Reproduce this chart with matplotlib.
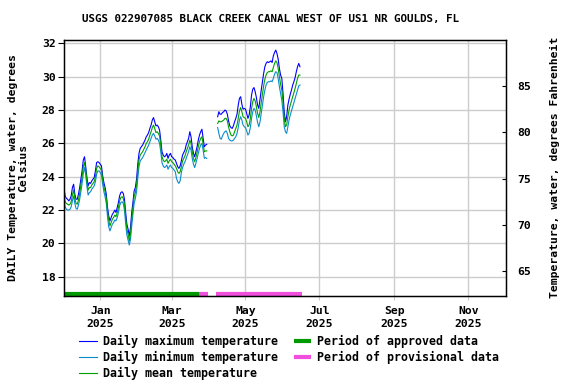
import matplotlib
matplotlib.use('Agg')
import matplotlib.pyplot as plt
import numpy as np
import pandas as pd

# Daily values, first segment starts 2024-12-02, second starts 2025-04-08
seg1_start = '2024-12-02'
seg1_max = [23.3, 22.85, 22.7, 22.65, 22.55, 22.65, 22.85, 23.35, 23.55, 22.95,
            22.65, 22.65, 22.95, 23.35, 23.85, 24.35, 25.0, 25.2, 24.6, 23.95,
            23.45, 23.65, 23.6, 23.75, 23.85, 23.95, 24.35, 24.85, 24.9, 24.85,
            24.75, 24.65, 24.05, 23.65, 23.35, 22.95, 22.15, 21.65, 21.35, 21.55,
            21.75, 21.85, 22.0, 21.85, 22.15, 22.45, 22.85, 23.05, 23.1, 23.0,
            22.65, 21.85, 21.15, 20.85, 20.45, 20.95, 21.85, 22.45, 23.15, 23.35,
            23.85, 24.75, 25.4, 25.7, 25.8, 25.9, 26.05, 26.2, 26.4, 26.5,
            26.65, 26.9, 27.1, 27.4, 27.55, 27.3, 27.05, 27.1, 27.0, 26.8,
            26.2, 25.5, 25.3, 25.2, 25.25, 25.4, 25.1, 25.3, 25.4, 25.2,
            25.15, 25.05, 25.0, 24.8, 24.6, 24.5, 24.65, 24.95, 25.3, 25.45,
            25.6, 25.9, 26.1, 26.3, 26.7, 26.4, 25.8, 25.4, 25.2, 25.5,
            25.8, 26.2, 26.5, 26.7, 26.85, 26.3, 25.8, 25.9, 25.95]
seg1_mean = [22.9, 22.5, 22.4, 22.35, 22.3, 22.35, 22.5, 22.9, 23.2, 22.7,
             22.4, 22.35, 22.6, 23.0, 23.5, 24.0, 24.6, 24.85, 24.4, 23.7,
             23.2, 23.35, 23.35, 23.5, 23.6, 23.7, 24.0, 24.5, 24.65, 24.6,
             24.5, 24.4, 23.85, 23.4, 23.1, 22.7, 21.9, 21.4, 21.05, 21.25,
             21.45, 21.55, 21.7, 21.6, 21.85, 22.15, 22.55, 22.75, 22.8, 22.7,
             22.35, 21.55, 20.85, 20.55, 20.15, 20.6, 21.45, 22.1, 22.8, 23.05,
             23.5, 24.35, 25.0, 25.3, 25.4, 25.5, 25.65, 25.8, 26.0, 26.1,
             26.25, 26.5, 26.7, 26.95, 27.1, 26.9, 26.65, 26.7, 26.6, 26.45,
             25.9, 25.2, 25.0, 24.9, 24.95, 25.05, 24.8, 24.95, 25.05, 24.9,
             24.85, 24.75, 24.65, 24.5, 24.3, 24.2, 24.3, 24.6, 24.95, 25.1,
             25.25, 25.5, 25.7, 25.9, 26.2, 26.0, 25.5, 25.1, 24.9, 25.15,
             25.45, 25.8, 26.1, 26.3, 26.4, 25.95, 25.5, 25.55, 25.55]
seg1_min = [22.6, 22.2, 22.05, 22.0, 22.0, 22.05, 22.2, 22.55, 22.85, 22.4,
            22.1, 22.05, 22.3, 22.65, 23.1, 23.6, 24.2, 24.55, 24.1, 23.4,
            22.9, 23.05, 23.1, 23.25, 23.35, 23.45, 23.7, 24.15, 24.35, 24.35,
            24.25, 24.1, 23.55, 23.1, 22.8, 22.4, 21.6, 21.0, 20.75, 20.95,
            21.15, 21.25, 21.4, 21.35, 21.55, 21.85, 22.25, 22.45, 22.5, 22.4,
            22.0, 21.2, 20.5, 20.2, 19.9, 20.25, 21.05, 21.75, 22.4, 22.7,
            23.1, 23.9, 24.6, 24.95, 25.05, 25.15, 25.3, 25.45, 25.6, 25.75,
            25.9, 26.1, 26.3, 26.5, 26.6, 26.45, 26.25, 26.3, 26.2, 26.0,
            25.5, 24.85, 24.65, 24.55, 24.6, 24.7, 24.45, 24.6, 24.7, 24.55,
            24.5, 24.4, 24.3, 23.9, 23.7, 23.6, 23.75, 24.25, 24.55, 24.75,
            24.9, 25.1, 25.3, 25.5, 25.8, 25.6, 25.1, 24.75, 24.55, 24.8,
            25.1, 25.4, 25.7, 25.9, 26.0, 25.6, 25.1, 25.15, 25.1]

seg2_start = '2025-04-08'
seg2_max = [27.6, 27.9, 27.75, 27.75, 27.85, 27.9, 28.0, 27.95, 27.75, 27.35,
            27.05, 26.95, 26.9, 27.05, 27.3, 27.5, 27.75, 28.3, 28.7, 28.8,
            28.35, 28.05, 28.1, 28.05, 27.8, 27.5, 27.7, 28.2, 28.9, 29.25,
            29.35, 29.1, 28.75, 28.3, 28.1, 28.65, 29.2, 29.7, 30.2, 30.6,
            30.8, 30.9, 30.85, 30.9, 30.95, 30.85, 31.25, 31.45, 31.6, 31.4,
            31.05, 30.5, 30.1, 29.9, 29.0, 27.9, 27.3, 27.6, 28.3, 28.65,
            28.95, 29.2, 29.5, 29.7, 29.95, 30.3, 30.6, 30.8, 30.6]
seg2_mean = [27.2, 27.35, 27.3, 27.3, 27.35, 27.4, 27.5, 27.5, 27.35, 27.0,
             26.7, 26.5, 26.45, 26.5, 26.7, 26.9, 27.1, 27.5, 27.95, 28.15,
             27.9, 27.6, 27.55, 27.5, 27.3, 27.0, 27.1, 27.5, 28.1, 28.5,
             28.7, 28.55, 28.2, 27.8, 27.55, 27.9, 28.45, 28.95, 29.45, 29.85,
             30.1, 30.25, 30.3, 30.3, 30.35, 30.3, 30.55, 30.8, 30.95, 30.85,
             30.5, 30.0, 29.55, 29.2, 28.5, 27.5, 27.0, 27.1, 27.6, 28.0,
             28.3, 28.55, 28.8, 29.05, 29.3, 29.6, 29.9, 30.1, 30.1]
seg2_min = [26.95, 26.6, 26.3, 26.25, 26.45, 26.6, 26.7, 26.75, 26.6, 26.3,
            26.2, 26.15, 26.15, 26.2, 26.3, 26.4, 26.6, 26.95, 27.4, 27.6,
            27.4, 27.1, 27.0, 26.95, 26.75, 26.5, 26.6, 26.95, 27.5, 27.9,
            28.1, 28.0, 27.65, 27.25, 27.0, 27.3, 27.8, 28.3, 28.8, 29.2,
            29.5, 29.65, 29.7, 29.7, 29.75, 29.7, 29.9, 30.15, 30.3, 30.25,
            29.9, 29.4, 29.0, 28.6, 27.9, 27.0, 26.7, 26.6, 27.0, 27.4,
            27.7, 27.95, 28.2, 28.45, 28.7, 28.95, 29.2, 29.45, 29.5]

approved_periods = [('2024-12-01', '2025-03-24')]
provisional_periods = [('2025-03-24', '2025-03-31'), ('2025-04-07', '2025-06-17')]

tick_dates = ['2025-01-01', '2025-03-01', '2025-05-01', '2025-07-01', '2025-09-01', '2025-11-01']
tick_labels = ['Jan\n2025', 'Mar\n2025', 'May\n2025', 'Jul\n2025', 'Sep\n2025', 'Nov\n2025']

title = 'USGS 022907085 BLACK CREEK CANAL WEST OF US1 NR GOULDS, FL'

MAX_C = '#0000ff'
MIN_C = '#0a8cd0'
MEAN_C = '#00a000'
APPR_C = '#009900'
PROV_C = '#f24fdf'

plt.rcParams['font.family'] = 'DejaVu Sans Mono'
plt.rcParams['font.weight'] = 'bold'
FS = 8.2

fig = plt.figure(figsize=(5.76, 3.84), dpi=100)
ax = fig.add_axes([0.111, 0.229, 0.767, 0.668])

for start, mx, mn, me in [(seg1_start, seg1_max, seg1_min, seg1_mean),
                          (seg2_start, seg2_max, seg2_min, seg2_mean)]:
    dates = pd.date_range(start, periods=len(mx), freq='D')
    ax.plot(dates, mx, color=MAX_C, lw=0.8, label='Daily maximum temperature')
    ax.plot(dates, mn, color=MIN_C, lw=0.8, label='Daily minimum temperature')
    ax.plot(dates, me, color=MEAN_C, lw=0.8, label='Daily mean temperature')

bar_y = 16.98
for s, e in approved_periods:
    ax.plot([pd.Timestamp(s), pd.Timestamp(e)], [bar_y, bar_y], color=APPR_C, lw=3,
            solid_capstyle='butt', label='Period of approved data')
for s, e in provisional_periods:
    ax.plot([pd.Timestamp(s), pd.Timestamp(e)], [bar_y, bar_y], color=PROV_C, lw=3,
            solid_capstyle='butt', label='Period of provisional data')

ax.set_xlim(pd.Timestamp('2024-12-02'), pd.Timestamp('2025-12-02'))
ax.set_ylim(16.84, 32.23)
ax.set_yticks(np.arange(18, 33, 2))
ax.set_xticks([pd.Timestamp(d) for d in tick_dates])
ax.set_xticklabels(tick_labels, fontsize=FS, fontweight='bold', linespacing=1.3)
ax.tick_params(axis='y', labelsize=FS, direction='out', length=4, pad=2)
ax.tick_params(axis='x', length=3, color='#cccccc', pad=4.5)
ax.grid(True, color='#cccccc', lw=1)
ax.set_axisbelow(True)
for sp in ax.spines.values():
    sp.set_linewidth(1)
ax.set_ylabel('DAILY Temperature, water, degrees\nCelsius', fontsize=FS,
              fontweight='bold', labelpad=10, linespacing=1.0)
fig.text(271 / 576, 1 - 19 / 384, title, fontsize=7.8, fontweight='bold',
         ha='center', va='center')

ax2 = ax.twinx()
lo, hi = ax.get_ylim()
ax2.set_ylim(lo * 1.8 + 32, hi * 1.8 + 32)
ax2.set_yticks([65, 70, 75, 80, 85])
ax2.tick_params(axis='y', labelsize=FS, direction='in', length=3, pad=8)
ax2.set_ylabel('Temperature, water, degrees Fahrenheit', fontsize=FS,
               fontweight='bold', labelpad=14)

handles, labels = ax.get_legend_handles_labels()
uniq = {}
for h, l in zip(handles, labels):
    uniq.setdefault(l, h)
order = ['Daily maximum temperature', 'Daily minimum temperature', 'Daily mean temperature',
         'Period of approved data', 'Period of provisional data']
fig.legend([uniq[k] for k in order], order, ncol=2, frameon=False,
           loc='upper left', bbox_to_anchor=(0.138, 0.128),
           fontsize=8.4, handlelength=1.5, handletextpad=0.5, columnspacing=1.35,
           labelspacing=0.24, borderaxespad=0, borderpad=0)

fig.savefig('out.png', dpi=100)
